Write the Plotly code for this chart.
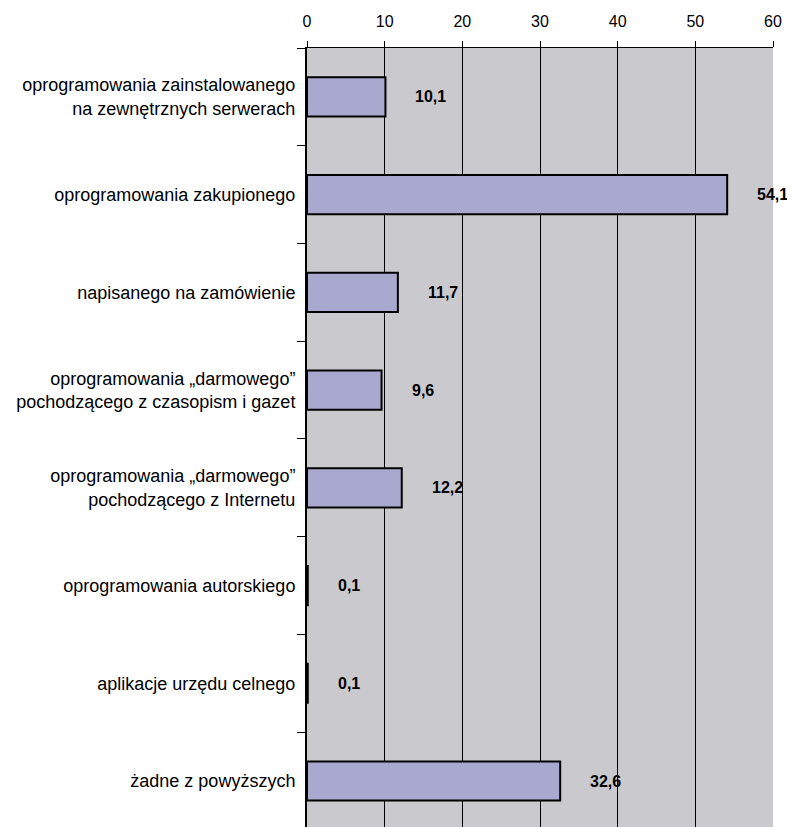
import plotly.graph_objects as go

categories = [
    "oprogramowania zainstalowanego<br>na zewnętrznych serwerach",
    "oprogramowania zakupionego",
    "napisanego na zamówienie",
    "oprogramowania „darmowego”<br>pochodzącego z czasopism i gazet",
    "oprogramowania „darmowego”<br>pochodzącego z Internetu",
    "oprogramowania autorskiego",
    "aplikacje urzędu celnego",
    "żadne z powyższych",
]
values = [10.1, 54.1, 11.7, 9.6, 12.2, 0.1, 0.1, 32.6]
value_labels = ["10,1", "54,1", "11,7", "9,6", "12,2", "0,1", "0,1", "32,6"]
x_ticks = [0, 10, 20, 30, 40, 50, 60]

fig = go.Figure()
fig.add_trace(go.Bar(
    y=categories, x=values, orientation="h",
    marker=dict(color="#A9A8CE", line=dict(color="#000000", width=2)),
    width=0.4, showlegend=False, hoverinfo="skip",
))

for c, v, t in zip(categories, values, value_labels):
    fig.add_annotation(x=v, y=c, text=f"<b>{t}</b>", showarrow=False,
                       xanchor="left", xshift=28,
                       font=dict(family="Liberation Sans, Arial", size=16, color="#000"))

fig.update_layout(
    width=787, height=819,
    margin=dict(l=299, r=22, t=40, b=0),
    paper_bgcolor="white", plot_bgcolor="#CACACE",
    font=dict(family="Liberation Sans, Arial", size=16, color="#000"),
    xaxis=dict(side="top", range=[0, 60], tickvals=x_ticks,
               ticks="outside", ticklen=6, tickcolor="#000",
               showgrid=True, gridcolor="#000", gridwidth=1,
               showline=True, linecolor="#000", linewidth=1,
               zeroline=False, tickfont=dict(size=16), automargin=False,
               ticklabelstandoff=8),
    yaxis=dict(type="category", tickson="boundaries",
               ticks="outside", ticklen=8, tickcolor="#000",
               showgrid=False, showline=True, linecolor="#000", linewidth=2,
               tickfont=dict(size=18), range=[7.47, -0.5],
               ticklabelstandoff=6, automargin=False),
)
fig.write_html("out.html")
